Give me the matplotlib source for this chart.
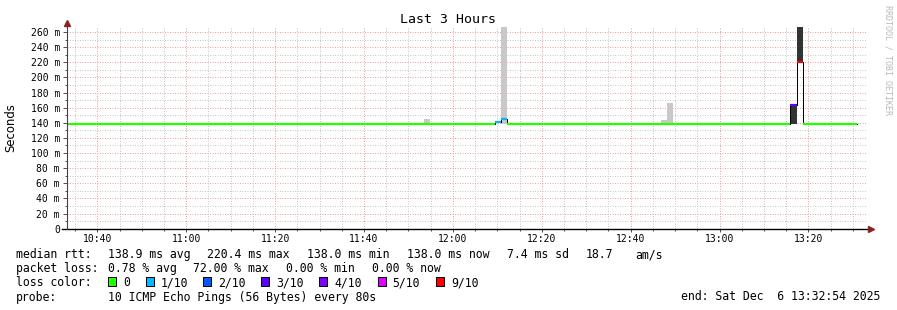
import matplotlib
matplotlib.use("Agg")
import matplotlib.pyplot as plt
from matplotlib.ticker import MultipleLocator, FuncFormatter
from matplotlib.patches import Rectangle

# time = minutes after 10:00, one probe step is 80 s
med_start = [33.18, 129.42, 130.77, 132.26, 195.87, 197.45, 198.80]
med_end = [129.42, 130.77, 132.26, 195.87, 197.45, 198.80, 210.88]
med_rtt = [138, 141, 145, 138, 164, 220, 138]      # median rtt, ms
med_loss = [0, 1, 1, 0, 3, 9, 0]                    # lost pings out of 10

# smoke (spread of the 10 pings)
smoke_start = [111.94, 113.51, 130.77, 166.84, 168.19, 195.87, 197.45]
smoke_end = [113.51, 114.86, 132.26, 168.19, 169.54, 197.45, 198.80]
smoke_low = [138, 138, 138, 138, 138, 138, 220]
smoke_high = [140, 145, 270, 143.5, 166, 162, 270]
smoke_loss = [0, 0, 1, 0, 0, 3, 9]

loss_levels = [0, 1, 2, 3, 4, 5, 9]
loss_labels = ["0", "1/10", "2/10", "3/10", "4/10", "5/10", "9/10"]
loss_colors = ["#26ff00", "#00b8ff", "#0059ff", "#5e00ff", "#7e00ff", "#dd00ff", "#ff0000"]

rtt_stats = ["138.9 ms avg", "220.4 ms max", "138.0 ms min", "138.0 ms now",
             "7.4 ms sd", "18.7", "am/s"]
loss_stats = ["0.78 % avg", "72.00 % max", "0.00 % min", "0.00 % now"]
probe_text = "10 ICMP Echo Pings (56 Bytes) every 80s"
end_text = "end: Sat Dec  6 13:32:54 2025"

plt.rcParams['font.family'] = ['DejaVu Sans Mono']

W, H = 897, 310
fig = plt.figure(figsize=(W / 100, H / 100), dpi=100)


def fx(px):
    return px / W


def fy(py):
    return 1 - py / H


# plot area in pixels
left, right, bottom, top = 67, 867, 228.7, 27.45
ax = fig.add_axes([fx(left), fy(bottom), (right - left) / W, (bottom - top) / H])
ax.set_xlim(33.18, 213.18)
ax.set_ylim(0, 266)

ax.xaxis.set_major_locator(MultipleLocator(20))
ax.xaxis.set_minor_locator(MultipleLocator(5))
ax.yaxis.set_major_locator(MultipleLocator(20))
ax.yaxis.set_minor_locator(MultipleLocator(10))
ax.xaxis.set_major_formatter(FuncFormatter(lambda m, p: f"{int(m // 60) + 10}:{int(round(m % 60)):02d}"))
ax.yaxis.set_major_formatter(FuncFormatter(lambda v, p: "0" if v == 0 else f"{v:.0f} m"))

ax.set_axisbelow(True)
ax.grid(which='major', color='#eea0a0', linestyle=(0, (1, 1.5)), linewidth=0.72)
ax.grid(which='minor', color='#c8c8c8', linestyle=(0, (1, 1.5)), linewidth=0.72)

ax.tick_params(axis='both', which='both', direction='out', width=0.72,
               color='#555555', labelsize=7)
ax.tick_params(axis='y', which='major', length=2.9, pad=2.2)
ax.tick_params(axis='y', which='minor', length=1.5)
ax.tick_params(axis='x', which='major', length=2.2, pad=1.8)
ax.tick_params(axis='x', which='minor', length=1.5)

for sp in ax.spines.values():
    sp.set_visible(False)

# smoke
for s, e, lo, hi, l in zip(smoke_start, smoke_end, smoke_low, smoke_high, smoke_loss):
    ax.bar(s, hi - lo, width=e - s, bottom=lo, align='edge',
           color='#333333' if l >= 3 else '#c8c8c8', linewidth=0, zorder=2)

# thin black median step line
xs, ys = [], []
for s, e, v in zip(med_start, med_end, med_rtt):
    xs += [s, e]
    ys += [v, v]
ax.plot(xs, ys, color='black', linewidth=0.72, zorder=3)

# median coloured by loss
for s, e, v, l in zip(med_start, med_end, med_rtt, med_loss):
    ax.plot([s, e], [v, v], color=loss_colors[loss_levels.index(l)],
            linewidth=1.6, solid_capstyle='butt', zorder=4)

# axes lines with arrows
aw, ah = right - left, bottom - top
ax.plot([-5 / aw, 1.003], [0, 0], color='black', linewidth=1.0,
        transform=ax.transAxes, clip_on=False, zorder=5)
ax.plot([0, 0], [0, 1.02], color='#444444', linewidth=0.8,
        transform=ax.transAxes, clip_on=False, zorder=5)
ax.plot([1.005], [0], marker='>', markersize=4.5, color='#8e2020',
        transform=ax.transAxes, clip_on=False, zorder=6)
ax.plot([0], [1.02], marker='^', markersize=4.5, color='#8e2020',
        transform=ax.transAxes, clip_on=False, zorder=6)

# titles
fig.text(fx(447.5), fy(19.5), "Last 3 Hours", ha='center', va='center', fontsize=9.5)
fig.text(fx(11), fy(127.7), "Seconds", rotation=90, ha='center', va='center',
         fontsize=8.4, family='DejaVu Sans')
fig.text(fx(888), fy(60), "RRDTOOL / TOBI OETIKER", rotation=270, ha='center',
         va='center', fontsize=6, color='#b8b8b8')

# legend
fs = 8.3
rows = [258, 272.3, 286.3, 300.5]
fig.text(fx(16), fy(rows[0]), "median rtt:", va='baseline', fontsize=fs)
for x, t in zip([108, 207, 307, 407, 507, 586, 635], rtt_stats):
    fig.text(fx(x), fy(rows[0]), t, va='baseline', fontsize=fs)

fig.text(fx(16), fy(rows[1]), "packet loss:", va='baseline', fontsize=fs)
for x, t in zip([108, 193, 286, 372], loss_stats):
    fig.text(fx(x), fy(rows[1]), t, va='baseline', fontsize=fs)

fig.text(fx(16), fy(rows[2]), "loss color:", va='baseline', fontsize=fs)
for x, lbl, c in zip([108, 146, 203, 261, 319, 377.5, 436], loss_labels, loss_colors):
    fig.patches.append(Rectangle((fx(x), fy(285.5)), 8 / W, 8.5 / H, facecolor=c,
                                 edgecolor='black', linewidth=0.72,
                                 transform=fig.transFigure, figure=fig))
    fig.text(fx(x + 15), fy(rows[2]), lbl, va='baseline', fontsize=fs)

fig.text(fx(16), fy(rows[3]), "probe:", va='baseline', fontsize=fs)
fig.text(fx(108), fy(rows[3]), probe_text, va='baseline', fontsize=fs)
fig.text(fx(880), fy(rows[3]), end_text, ha='right', va='baseline', fontsize=fs)

fig.savefig("out.png", dpi=100, facecolor='white')
